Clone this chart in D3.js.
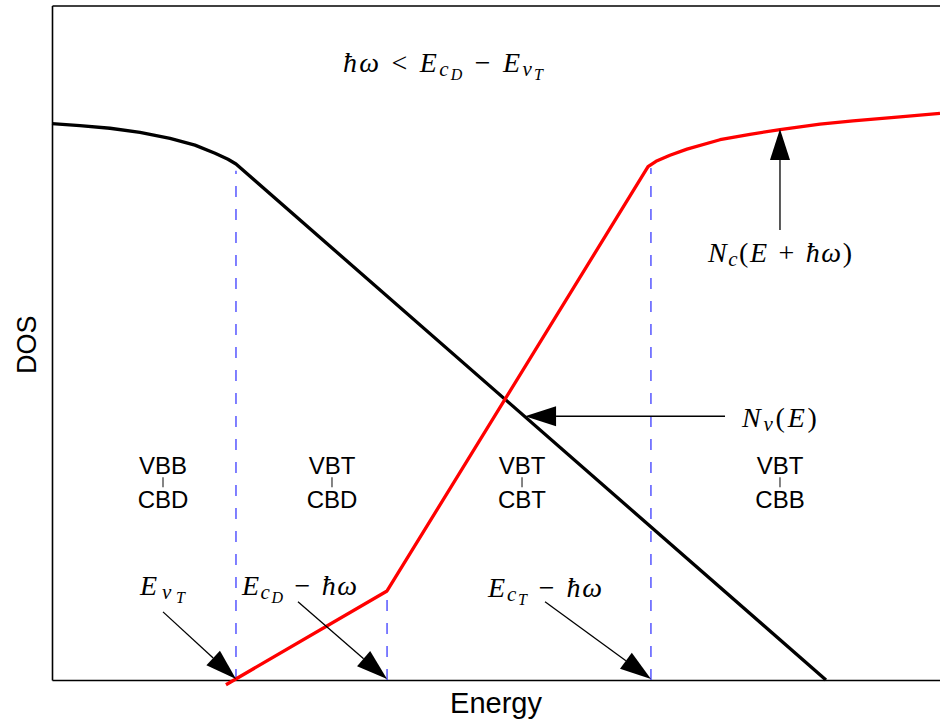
<!DOCTYPE html>
<html>
<head>
<meta charset="utf-8">
<script src="https://cdn.jsdelivr.net/npm/d3@7"></script>
<style>
  body { margin: 0; background: #fff; }
  svg { display: block; }
</style>
</head>
<body>
<script>
// curves (energy and DOS in arbitrary units 0..10)
var valenceE   = [0, 0.315, 0.653, 0.991, 1.329, 1.610, 1.836, 1.982, 2.072, 8.716];
var valenceDOS = [8.25, 8.22, 8.18, 8.12, 8.03, 7.93, 7.81, 7.72, 7.65, 0];

var condE   = [1.959, 3.773, 6.712, 6.802, 6.959, 7.151, 7.523, 7.860, 8.198, 8.649, 9.020, 9.550, 10.0];
var condDOS = [-0.07, 1.32, 7.61, 7.69, 7.78, 7.87, 8.01, 8.09, 8.16, 8.24, 8.29, 8.35, 8.40];

// dashed markers: energy, top of dash
var markerE   = [2.072, 3.773, 6.745];
var markerTop = [7.55, 1.32, 7.59];

// region labels
var regionE     = [1.25, 3.153, 5.293, 8.198];
var regionUpper = ["VBB", "VBT", "VBT", "VBT"];
var regionLower = ["CBD", "CBD", "CBT", "CBB"];
var regionY = 3.05;

// annotation arrows [x0, y0, x1(tip), y1(tip)]
var arrows = [
  [8.198, 6.67, 8.198, 8.17],
  [7.579, 3.91, 5.327, 3.91],
  [1.25, 1.01, 2.072, 0.015],
  [2.77, 1.16, 3.773, 0.015],
  [5.552, 1.16, 6.745, 0.015]
];

// math labels: position + pieces [text, level, kind] (kind: 1 italic, 0 roman, 2 binary operator)
var mathLabels = [
  {x: 4.403, y: 9.01, parts: [["ħω",0,1],["<",0,2],["E",0,1],["c",1,1],["D",2,1],["−",0,2],["E",0,1],["v",1,1],["T",2,1]]},
  {x: 8.198, y: 6.20, parts: [["N",0,1],["c",1,1],["(",0,0],["E",0,1],["+",0,2],["ħω",0,1],[")",0,0]]},
  {x: 8.192, y: 3.75, parts: [["N",0,1],["v",1,1],["(",0,0],["E",0,1],[")",0,0]]},
  {x: 1.244, y: 1.26, parts: [["E",0,1],["v",1,1],["T",2,1]]},
  {x: 2.787, y: 1.26, parts: [["E",0,1],["c",1,1],["D",2,1],["−",0,2],["ħω",0,1]]},
  {x: 5.552, y: 1.23, parts: [["E",0,1],["c",1,1],["T",2,1],["−",0,2],["ħω",0,1]]}
];
// rendered widths of the math labels in the picture (px)
var mathWidths = [200, 144, 75, 45, 115, 114];

var width = 940, height = 726;
var plotLeft = 52, plotRight = 940, plotTop = 5.5, plotBottom = 680;

var x = d3.scaleLinear().domain([0, 10]).range([plotLeft, plotRight]);
var y = d3.scaleLinear().domain([0, 10]).range([plotBottom, plotTop]);

var svg = d3.select("body").append("svg")
  .attr("width", width)
  .attr("height", height);

// axes box (no ticks)
svg.append("g")
  .attr("transform", "translate(0," + plotBottom + ")")
  .call(d3.axisBottom(x).tickValues([]).tickSizeOuter(0))
  .select(".domain").attr("stroke-width", 1.6);
svg.append("g")
  .attr("transform", "translate(" + plotLeft + ",0)")
  .call(d3.axisLeft(y).tickValues([]).tickSizeOuter(0))
  .select(".domain").attr("stroke-width", 1.6);
svg.append("g")
  .attr("transform", "translate(0," + plotTop + ")")
  .call(d3.axisTop(x).tickValues([]).tickSizeOuter(0))
  .select(".domain").attr("stroke-width", 1.6);

// dashed markers
svg.selectAll(".marker")
  .data(markerE)
  .enter().append("line")
  .attr("x1", function(d) { return x(d); })
  .attr("x2", function(d) { return x(d); })
  .attr("y1", y(0))
  .attr("y2", function(d, i) { return y(markerTop[i]); })
  .attr("stroke", "#0000ff")
  .attr("stroke-width", 1)
  .attr("stroke-dasharray", "11,12");

var line = d3.line()
  .x(function(d) { return x(d[0]); })
  .y(function(d) { return y(d[1]); });

svg.append("path")
  .datum(d3.zip(valenceE, valenceDOS))
  .attr("d", line)
  .attr("fill", "none")
  .attr("stroke", "#000")
  .attr("stroke-width", 3.3)
  .attr("stroke-linejoin", "round");

svg.append("path")
  .datum(d3.zip(condE, condDOS))
  .attr("d", line)
  .attr("fill", "none")
  .attr("stroke", "#ff0000")
  .attr("stroke-width", 3.3)
  .attr("stroke-linejoin", "round");

// arrows
var headLen = 31, headHalf = 10;
arrows.forEach(function(a) {
  var x0 = x(a[0]), y0 = y(a[1]), x1 = x(a[2]), y1 = y(a[3]);
  var dx = x1 - x0, dy = y1 - y0, len = Math.sqrt(dx * dx + dy * dy);
  var ux = dx / len, uy = dy / len;
  var bx = x1 - ux * headLen, by = y1 - uy * headLen;
  svg.append("line")
    .attr("x1", x0).attr("y1", y0)
    .attr("x2", bx).attr("y2", by)
    .attr("stroke", "#000")
    .attr("stroke-width", 1.3);
  svg.append("path")
    .attr("d", "M" + x1 + "," + y1 +
      "L" + (bx - uy * headHalf) + "," + (by + ux * headHalf) +
      "L" + (bx + uy * headHalf) + "," + (by - ux * headHalf) + "Z")
    .attr("fill", "#000");
});

// region labels
var regions = svg.selectAll(".region")
  .data(regionE)
  .enter().append("g")
  .attr("transform", function(d) { return "translate(" + x(d) + "," + y(regionY) + ")"; })
  .style("font-family", "'Liberation Sans', Arial, sans-serif")
  .style("font-size", "24px");
regions.append("text")
  .attr("text-anchor", "middle")
  .text(function(d, i) { return regionUpper[i]; });
regions.append("line")
  .attr("x1", 0).attr("x2", 0)
  .attr("y1", 3).attr("y2", 13)
  .attr("stroke", "#333")
  .attr("stroke-width", 1.2);
regions.append("text")
  .attr("text-anchor", "middle")
  .attr("y", 34)
  .text(function(d, i) { return regionLower[i]; });

// math labels
var sizes = [28, 21, 16], shifts = [0, 4, 8], opGap = 10;
mathLabels.forEach(function(m, k) {
  var t = svg.append("text")
    .attr("x", x(m.x))
    .attr("y", y(m.y))
    .attr("text-anchor", "middle")
    .style("font-family", "'Liberation Serif', 'DejaVu Serif', serif");
  var lvl = 0, prevOp = false;
  m.parts.forEach(function(p) {
    var gap = (p[2] === 2 || prevOp) ? opGap : 0;
    t.append("tspan")
      .attr("dx", gap)
      .attr("dy", shifts[p[1]] - shifts[lvl])
      .style("font-size", sizes[p[1]] + "px")
      .style("font-style", p[2] === 1 ? "italic" : "normal")
      .text(p[0]);
    lvl = p[1];
    prevOp = p[2] === 2;
  });
  var natural = t.node().getComputedTextLength();
  if (natural < mathWidths[k]) {
    t.attr("textLength", mathWidths[k]).attr("lengthAdjust", "spacing");
  }
});

// axis titles
svg.append("text")
  .attr("x", (plotLeft + 940) / 2)
  .attr("y", 713)
  .attr("text-anchor", "middle")
  .style("font-family", "'Liberation Sans', Arial, sans-serif")
  .style("font-size", "29px")
  .text("Energy");

svg.append("text")
  .attr("transform", "translate(36," + (y(5) + 2) + ") rotate(-90)")
  .attr("text-anchor", "middle")
  .style("font-family", "'Liberation Sans', Arial, sans-serif")
  .style("font-size", "27px")
  .text("DOS");
</script>
</body>
</html>
